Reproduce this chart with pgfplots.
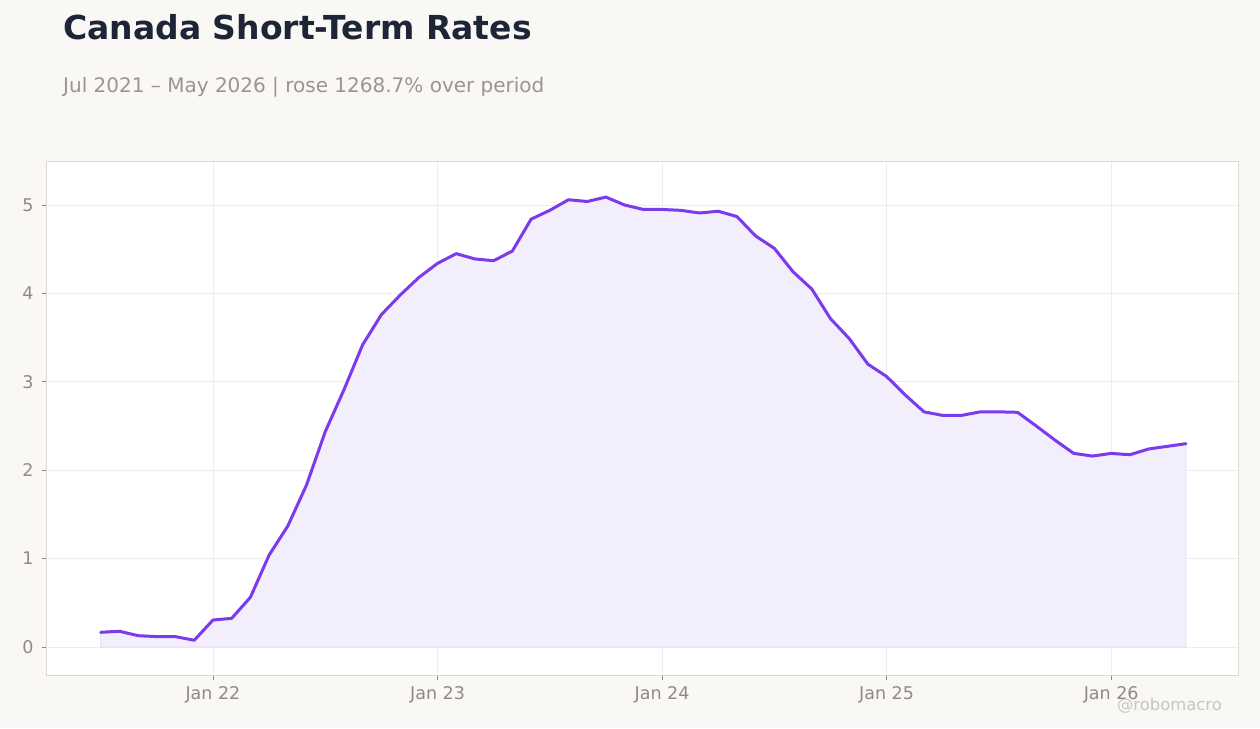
\documentclass[border=0pt]{standalone}
\usepackage{pgfplots}
\pgfplotsset{compat=1.18}
\usepackage{fontspec}
\setmainfont{DejaVu Sans}
\definecolor{bgc}{HTML}{F9F8F5}
\definecolor{linec}{HTML}{7C3AED}
\definecolor{fillc}{HTML}{F2EEFC}
\definecolor{gridc}{HTML}{EFEDEA}
\definecolor{framec}{HTML}{DDD8D0}
\definecolor{tickc}{HTML}{8F8A84}
\definecolor{titlec}{HTML}{1E2536}
\definecolor{subc}{HTML}{9A9590}
\definecolor{wmc}{HTML}{C8C6C2}
\pgfplotstableread{
x y
0 0.166
1 0.178
2 0.128
3 0.117
4 0.117
5 0.076
6 0.305
7 0.324
8 0.562
9 1.04
10 1.369
11 1.833
12 2.436
13 2.91
14 3.42
15 3.76
16 3.98
17 4.18
18 4.34
19 4.45
20 4.39
21 4.37
22 4.48
23 4.84
24 4.94
25 5.06
26 5.04
27 5.09
28 5.00
29 4.95
30 4.95
31 4.94
32 4.91
33 4.93
34 4.87
35 4.65
36 4.51
37 4.245
38 4.05
39 3.715
40 3.49
41 3.20
42 3.06
43 2.85
44 2.66
45 2.62
46 2.62
47 2.66
48 2.66
49 2.655
50 2.50
51 2.34
52 2.19
53 2.16
54 2.19
55 2.175
56 2.24
57 2.27
58 2.30
}\ratedata
\begin{document}
\begin{tikzpicture}[x=1pt,y=1pt]
\fill[bgc] (0,0) rectangle (1260,728);
\node[anchor=base west,inner sep=0,text=titlec,font=\fontsize{33}{38}\selectfont\bfseries] at (63,688) {Canada Short-Term Rates};
\node[anchor=base west,inner sep=0,text=subc,font=\fontsize{20}{24}\selectfont] at (63,635) {Jul 2021 – May 2026 | rose 1268.7\% over period};
\begin{axis}[
  at={(47pt,53pt)}, anchor=south west,
  scale only axis, width=1191pt, height=513pt,
  xmin=-2.87, xmax=60.78, ymin=-0.317, ymax=5.487,
  axis background/.style={fill=white},
  axis line style={framec, line width=1pt},
  grid=major, major grid style={gridc, line width=0.8pt},
  xtick={6,18,30,42,54},
  xticklabels={Jan 22,Jan 23,Jan 24,Jan 25,Jan 26},
  ytick={0,1,2,3,4,5},
  tick align=outside, major tick length=5pt,
  tick style={tickc, line width=0.8pt},
  xtick pos=bottom, ytick pos=left,
  ticklabel style={font=\fontsize{17.5}{21}\selectfont, text=tickc},
  /pgf/number format/assume math mode=true,
  xticklabel style={yshift=-3pt},
  yticklabel style={xshift=-5pt},
  clip=true,
]
\addplot[fill=fillc, draw=linec!20, line width=0.8pt] table[x=x,y=y]{\ratedata} \closedcycle;
\addplot[linec, line width=3pt, line join=round, line cap=round] table[x=x,y=y]{\ratedata};
\end{axis}
\node[anchor=base east,inner sep=0,text=wmc,font=\fontsize{16.4}{19}\selectfont] at (1222,18) {@robomacro};
\end{tikzpicture}
\end{document}
